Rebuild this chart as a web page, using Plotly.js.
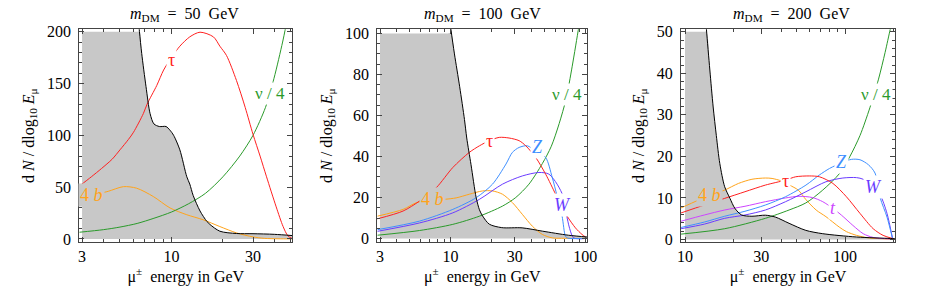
<!DOCTYPE html>
<html><head><meta charset="utf-8">
<script src="https://cdn.plot.ly/plotly-3.0.1.min.js"></script>
<style>html,body{margin:0;padding:0;background:#fff}#chart{width:926px;height:290px}</style>
</head><body><div id="chart"></div>
<script>
// ---------- Panel 1 : m_DM = 50 GeV ----------
const bgE1 = [3,4,5,6,6.3,6.5,6.7,7.1,7.5,7.9,8.5,9.3,9.8,10.3,11.2,12.3,12.8,13.4,14.7,16.1,16.8,19.2,24,30,40,51];
const bgV1 = [1500,700,420,270,225,200,179,147,121,111,108.5,108.5,105,100,86,60,53,42,27,17,14,7.5,5.3,5.1,4.5,3.3];
const tauE1 = [2.89,3.4,3.9,4.5,5.0,5.6,6.0,6.85,7.2,8.2,9.0,10,11.2,12.8,14.7,17.6,19.2,21,24,27,30,33,36,41,45,48,51];
const tauV1 = [51,60,68,77,86,96,103,121,130,148,163,175,186,195,199.5,195,186,177,153,127,101,80,60,31,12,3,0.3];
const nuE1 = [2.89,4,5,6.3,7.9,10,12.6,15.8,20,25.1,30,35.5,39.8,44.7,46.8];
const nuV1 = [6.5,9,11.5,15,20,26,34,44,60,80,100,127,155,190,206];
const bE1 = [2.89,3.4,3.8,4.27,5.24,6.26,7.83,9.8,12.3,15.3,19.2,24.1,30,35,42,51];
const bV1 = [38,42,44,46,50.5,49,41,30,23.4,18.6,12,5.8,2,0.6,0.2,0.1];

// ---------- Panel 2 : m_DM = 100 GeV ----------
const bgE2 = [3,6,9,9.5,10.1,10.7,11.7,12.7,13.2,14.2,15.5,16.4,17.3,19.4,24,34,48,75,105];
const bgV2 = [2000,400,140,120,101.6,90,74,58,49,36,20,14,11,7,5.3,5.2,3.6,1.6,0.7];
const tauE2 = [2.87,4.45,5.9,7.85,10.4,13.8,16.4,19.4,23,27.2,32.3,36.2,42.9,50.8,60.2,66,73.3,84.5,94.5,101];
const tauV2 = [9.6,13.4,18.3,24.8,34.6,42,45.2,47.7,49.3,49,47.7,45.2,39.5,31.4,21.6,16,10.9,5.2,2,0.6];
const zE2 = [2.87,5.9,10.4,15.5,20.5,25.8,28.8,32.3,37.2,44,50.8,56.9,61.8,67.3,71.3,74,105];
const zV2 = [4.3,8.5,14.2,19.9,26.5,36.3,42,44.4,45.2,42,39.5,29.7,20.7,10.9,1.1,0.2,0.1];
const wE2 = [2.87,5.9,10.4,16.4,24.3,34.1,45.3,53.7,61.8,69.2,73.3,77.6,82,105];
const wV2 = [3.5,7.6,12.5,19.1,26.5,30.5,32.2,31.4,26.5,19.9,10.1,3.6,0.3,0.1];
const bE2 = [2.87,4.45,5.6,7.4,9.0,11,13.8,17.3,20.5,24.3,28.8,34.1,40.5,48,56.9,70,105];
const bV2 = [10.9,14.2,17.5,18.8,19.1,19.8,21.6,23.2,23.2,21.6,17.5,11.8,6,2,0.3,0.1,0.05];
const nuE2 = [2.87,5.9,10.4,16.4,24.3,30.5,38.2,48,56,64,72,80,89.4,93];
const nuV2 = [1.6,3.9,6.9,10.9,15.8,20,26.5,36.5,45,56,68,84,103,110];

// ---------- Panel 3 : m_DM = 200 GeV ----------
const bgE3 = [10,12,13,13.6,14.3,15,15.7,16.5,17.7,19.1,20.5,22.6,26.2,31.8,36.7,44.7,56.9,72.6,118,192,205];
const bgV3 = [150,85,62,50.8,40.8,31.9,25,18.3,12.7,9.9,7.5,5.9,5.6,5.85,5.4,3.9,2.2,1.4,0.6,0.25,0.2];
const bE3 = [9.45,12,14.3,17.7,21.6,26.2,31.8,35,40,45,51,57,66,76,92,102,118,140,200];
const bV3 = [7.6,9.4,10.6,11.9,13.5,14.5,14.8,14.7,14.1,13.1,11.9,9.6,7.1,5.5,3,1.9,1,0.4,0.1];
const tauE3 = [9.45,13.2,17.7,23.7,31.8,42.5,49.2,59.8,69.2,84,102,124,150,173,200];
const tauV3 = [6.4,8.3,9.9,11.5,13.1,14.3,15.1,15.3,15.1,13.5,10.3,6.3,2.6,1,0.2];
const zE3 = [9.45,13.2,17.7,23.7,31.8,42.5,57,69,80,97,110,124,140,154,166,183,198];
const zV3 = [2.9,4.2,5.6,6.8,8.3,10.3,13.1,15.5,17.1,18.6,19.3,19.2,18,16,10,5.4,0.3];
const wE3 = [9.45,13.2,17.7,23.7,31.8,42.5,57,76,97,118,130,150,166,183,198];
const wV3 = [2.6,3.7,5.1,5.9,7.1,9.1,11.5,13.9,14.8,14.9,14.5,12.7,10.7,6.3,0.3];
const tE3 = [9.45,13.2,17.7,23.7,31.8,42.5,51.6,62.6,72.6,84,94.8,112,130,150,200];
const tV3 = [4.4,5.9,7.1,8.0,9.1,10.0,10.4,10.1,9.1,7.5,5.9,3.4,1.4,0.5,0.1];
const nuE3 = [9.45,17.7,31.8,44.7,56.9,72.6,92.5,107,124,143,162,178,192,200];
const nuV3 = [1.3,2.6,5.1,7.1,8.8,11.9,15.9,19.9,25,31.7,38.6,45,50.7,53.5];

// tick labels
const xTicks1 = [3,10,30], xMinor1 = [4,5,6,7,8,9,20,40,50];
const xTicks2 = [3,10,30,100], xMinor2 = [4,5,6,7,8,9,20,40,50,60,70,80,90];
const xTicks3 = [10,30,100], xMinor3 = [20,40,50,60,70,80,90,200];
const yTicks1 = [0,50,100,150,200], yTicks2 = [0,20,40,60,80,100], yTicks3 = [0,10,20,30,40,50];
const titles = ['50','100','200'];

// ---------- styling ----------
const FONT = '"Liberation Serif", "Times New Roman", serif';
const C = {red:'#ff2020', green:'#2a9a2a', orange:'#ffa31a', z:'#3f8fff', w:'#6a3cff', t:'#cc44ff', gray:'#c8c8c8'};
const GRAYCAP = [200, 100, 50];

function sfx(i){ return i === 1 ? '' : String(i); }
function ln(E, V, color, i){
  return {x:E, y:V, xaxis:'x'+sfx(i), yaxis:'y'+sfx(i), mode:'lines', hoverinfo:'skip', showlegend:false,
          line:{color:color, width:1, shape:'spline', smoothing:0.8}};
}
function gray(E, V, i){
  return {x:E, y:V.map(v => Math.min(v, GRAYCAP[i-1])), xaxis:'x'+sfx(i), yaxis:'y'+sfx(i), mode:'lines',
          fill:'tozeroy', fillcolor:C.gray, hoverinfo:'skip', showlegend:false,
          line:{color:'rgba(0,0,0,0)', width:0, shape:'spline', smoothing:0.8}};
}

const data = [
  gray(bgE1,bgV1,1), ln(bE1,bV1,C.orange,1), ln(nuE1,nuV1,C.green,1), ln(tauE1,tauV1,C.red,1), ln(bgE1,bgV1,'#000',1),
  gray(bgE2,bgV2,2), ln(bE2,bV2,C.orange,2), ln(nuE2,nuV2,C.green,2), ln(wE2,wV2,C.w,2), ln(zE2,zV2,C.z,2), ln(tauE2,tauV2,C.red,2), ln(bgE2,bgV2,'#000',2),
  gray(bgE3,bgV3,3), ln(bE3,bV3,C.orange,3), ln(nuE3,nuV3,C.green,3), ln(tE3,tV3,C.t,3), ln(wE3,wV3,C.w,3), ln(zE3,zV3,C.z,3), ln(tauE3,tauV3,C.red,3), ln(bgE3,bgV3,'#000',3)
];

const W = 926, H = 290;
const yDom = [1-242/H, 1-29.3/H];
const TF = {family:FONT, size:16, color:'#000'};
function xax(dom, rng, major, minor, anchor){
  return {domain:dom, type:'log', range:rng, anchor:anchor, tickmode:'array', tickvals:major, ticktext:major.map(String),
    ticks:'inside', ticklen:5, tickcolor:'#444', tickwidth:1, showline:true, linecolor:'#444', linewidth:1,
    mirror:'allticks', showgrid:false, zeroline:false, fixedrange:true, automargin:false,
    tickfont:{family:FONT, size:16, color:'#000'},
    title:{text:'μ<sup>±</sup>\u00a0\u00a0energy in GeV', font:TF, standoff:4},
    minor:{tickmode:'array', tickvals:minor, ticks:'inside', ticklen:3, tickcolor:'#444', showgrid:false}};
}
function yax(rng, major, mdt, anchor){
  return {domain:yDom, range:rng, anchor:anchor, tickmode:'array', tickvals:major, ticktext:major.map(String),
    ticks:'inside', ticklen:5, tickcolor:'#444', showline:true, linecolor:'#444', linewidth:1,
    mirror:'allticks', showgrid:false, zeroline:false, fixedrange:true, ticklabelstandoff:4, automargin:false,
    tickfont:{family:FONT, size:16, color:'#000'},
    title:{text:'d\u00a0<i>N</i>\u00a0/\u00a0dlog<sub>10</sub>\u00a0<i>E</i><sub>μ</sub>', font:TF, standoff:8},
    minor:{dtick:mdt, ticks:'inside', ticklen:3, tickcolor:'#444', showgrid:false}};
}

const L = Math.log10;
function lab(i, E, v, text, color, bg, size){
  return {xref:'x'+sfx(i), yref:'y'+sfx(i), x:L(E), y:v, text:text, showarrow:false,
    font:{family:FONT, size:size||18, color:color}, bgcolor:bg, borderpad:1, xanchor:'center', yanchor:'middle'};
}
const ann = [];
const tcx = [184, 482.5, 791];
for (let i=0;i<3;i++){
  ann.push({xref:'paper', yref:'paper', x:tcx[i]/W, y:1-15/H, xanchor:'center', yanchor:'middle', showarrow:false,
    text:'<i>m</i><sub>DM</sub>\u00a0\u00a0=\u00a0\u00a0'+titles[i]+'\u00a0\u00a0GeV', font:{family:FONT, size:16, color:'#000'}});
}
ann.push(lab(1, 10, 173, 'τ', C.red, '#fff'));
ann.push(lab(1, 37.7, 140, 'ν\u00a0/\u00a04', C.green, '#fff', 17));
ann.push(lab(1, 3.4, 42.7, '4\u00a0<i>b</i>', C.orange, C.gray));
ann.push(lab(2, 19.4, 47.7, 'τ', C.red, '#fff'));
ann.push(lab(2, 44, 44.6, '<i>Z</i>', C.z, '#fff'));
ann.push(lab(2, 68, 16.5, '<i>W</i>', C.w, '#fff'));
ann.push(lab(2, 7.4, 19.5, '4\u00a0<i>b</i>', C.orange, C.gray));
ann.push(lab(2, 72.8, 70, 'ν\u00a0/\u00a04', C.green, '#fff', 17));
ann.push(lab(3, 14.3, 10.7, '4\u00a0<i>b</i>', C.orange, C.gray));
ann.push(lab(3, 42.5, 14, 'τ', C.red, '#fff'));
ann.push(lab(3, 95, 18.7, '<i>Z</i>', C.z, '#fff'));
ann.push(lab(3, 150, 12.7, '<i>W</i>', C.w, '#fff'));
ann.push(lab(3, 84, 7.5, '<i>t</i>', C.t, '#fff'));
ann.push(lab(3, 157, 35, 'ν\u00a0/\u00a04', C.green, '#fff', 17));

const layout = {
  width:W, height:H, margin:{l:0,r:0,t:0,b:0}, paper_bgcolor:'#fff', plot_bgcolor:'#fff', showlegend:false,
  font:{family:FONT, color:'#000'},
  xaxis: xax([79.3/W, 292.3/W], [0.461, 1.707], xTicks1, xMinor1, 'y'),
  yaxis: yax([-2.9, 202.3], yTicks1, 10, 'x'),
  xaxis2: xax([377.3/W, 587.3/W], [0.457, 2.015], xTicks2, xMinor2, 'y2'),
  yaxis2: yax([-1.7, 102], yTicks2, 5, 'x2'),
  xaxis3: xax([681/W, 895/W], [0.975, 2.3125], xTicks3, xMinor3, 'y3'),
  yaxis3: yax([-0.6, 50.6], yTicks3, 2, 'x3'),
  annotations: ann
};
Plotly.newPlot('chart', data, layout, {displayModeBar:false});
</script></body></html>
